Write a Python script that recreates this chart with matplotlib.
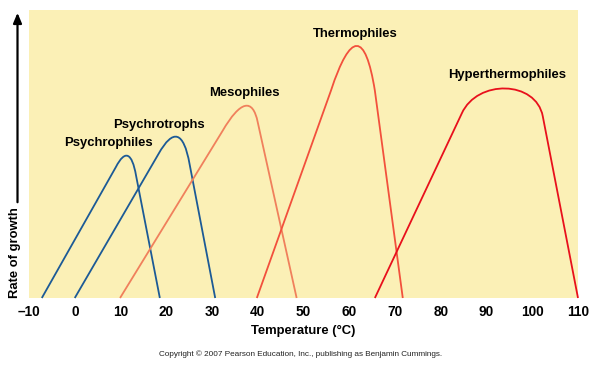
import matplotlib
matplotlib.use("Agg")
import matplotlib.pyplot as plt
from matplotlib.path import Path
from matplotlib.patches import PathPatch

# growth curves: rise start, left shoulder, two bezier controls, right shoulder, end
names = ["Psychrophiles", "Psychrotrophs", "Mesophiles", "Thermophiles", "Hyperthermophiles"]
curve_x = [
    [-7.2, 9.0, 11.0, 12.5, 13.4, 18.6],
    [0.0, 18.3, 21.5, 23.8, 25.1, 30.7],
    [9.9, 32.3, 36.2, 38.9, 40.0, 48.5],
    [39.8, 56.0, 60.3, 63.5, 65.6, 71.7],
    [65.6, 84.6, 88.0, 100.8, 102.3, 110.0],
]
curve_y = [
    [0, 45.5, 51.6, 50.6, 42.5, 0],
    [0, 50.0, 59.0, 58.0, 46.5, 0],
    [0, 58.0, 68.6, 69.6, 61.0, 0],
    [0, 72.0, 92.7, 92.7, 72.0, 0],
    [0, 64.1, 76.0, 75.6, 63.1, 0],
]
colors = ["#1c5a96", "#1c5a96", "#f0805c", "#f2503c", "#e8101c"]
label_x = [7.3, 18.4, 37.1, 61.3, 94.5]
label_y = [53.8, 60.1, 71.2, 91.7, 77.4]

ticks = list(range(-10, 111, 10))
tick_labels = [str(t).replace("-", "\u2013") for t in ticks]

plt.rcParams['font.family'] = ['Liberation Sans', 'DejaVu Sans']

fig = plt.figure(figsize=(6, 3.69), dpi=100)
ax = fig.add_axes([29 / 600, 1 - 298 / 369, 549 / 600, 288 / 369])
ax.set_facecolor("#fbf0b6")
ax.set_xlim(-10, 110)
ax.set_ylim(0, 100)

codes = [Path.MOVETO, Path.LINETO, Path.CURVE4, Path.CURVE4, Path.CURVE4, Path.LINETO]
for xs, ys, c in zip(curve_x, curve_y, colors):
    path = Path(list(zip(xs, ys)), codes)
    ax.add_patch(PathPatch(path, facecolor="none", edgecolor=c, lw=1.3, clip_on=False))

for name, lx, ly in zip(names, label_x, label_y):
    ax.text(lx, ly, name, ha="center", va="center", fontsize=9.4, fontweight="bold")

for s in ax.spines.values():
    s.set_visible(False)
ax.set_yticks([])
ax.set_xticks(ticks)
ax.set_xticklabels(tick_labels, fontsize=9.8, fontweight="bold")
ax.tick_params(axis="x", length=0, pad=5)

fig.text(303 / 600, 1 - 331 / 369, "Temperature (\u00b0C)", ha="center", va="center",
         fontsize=9.4, fontweight="bold")
fig.text(301 / 600, 1 - 354 / 369,
         "Copyright \u00a9 2007 Pearson Education, Inc., publishing as Benjamin Cummings.",
         ha="center", va="center", fontsize=5.9, color="#222222")

# y-axis: rotated label with arrow above it
fig.text(15 / 600, 1 - 253 / 369, "Rate of growth", rotation=90, ha="center", va="center",
         fontsize=9.4, fontweight="bold")
fig.add_artist(matplotlib.patches.FancyArrowPatch(
    (17.5 / 600, 1 - 205 / 369), (17.5 / 600, 1 - 10 / 369), transform=fig.transFigure,
    arrowstyle="-|>,head_length=6,head_width=2.5", color="black", lw=1.6))

fig.savefig("out.png", dpi=100, facecolor="white")
